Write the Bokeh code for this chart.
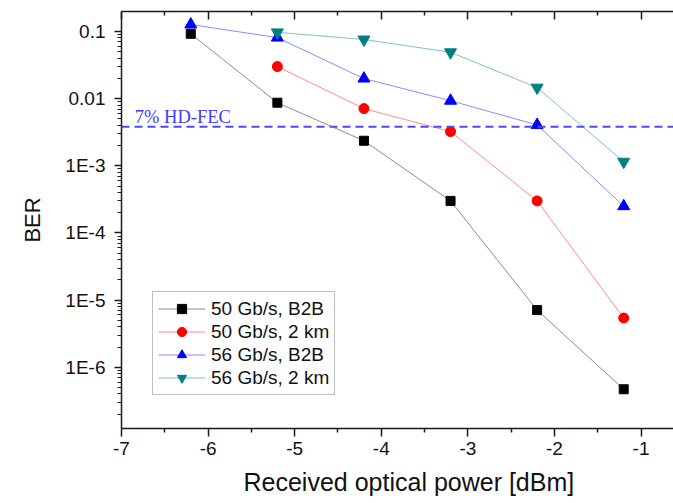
import math
from bokeh.plotting import figure
from bokeh.models import (LinearAxis, FixedTicker, CustomJSTickFormatter, Span, Label,
                          Legend, LegendItem, Range1d, Title)
from bokeh.embed import file_html
from bokeh.resources import INLINE

# ---- data ----
x_power = [-6.2, -5.2, -4.2, -3.2, -2.2, -1.2]
x_power_2km = [-5.2, -4.2, -3.2, -2.2, -1.2]
ber_50_b2b = [0.0924, 0.0087, 0.00236, 3.0e-4, 7.1e-6, 4.7e-7]
ber_50_2km = [0.030, 0.0071, 0.00323, 3.0e-4, 5.4e-6]
ber_56_b2b = [0.127, 0.081, 0.0199, 0.0093, 0.00406, 2.5e-4]
ber_56_2km = [0.097, 0.076, 0.049, 0.0146, 1.15e-3]
series_labels = ["50 Gb/s, B2B", "50 Gb/s, 2 km", "56 Gb/s, B2B", "56 Gb/s, 2 km"]
x_ticks = [-7, -6, -5, -4, -3, -2, -1]
x_minor_ticks = [-6.5, -5.5, -4.5, -3.5, -2.5, -1.5]
y_ticks = [1e-6, 1e-5, 1e-4, 1e-3, 1e-2, 1e-1]
y_tick_labels = ["1E-6", "1E-5", "1E-4", "1E-3", "0.01", "0.1"]
hd_fec_threshold = 3.8e-3
hd_fec_text = "7% HD-FEC"
x_title = "Received optical power [dBm]"
y_title = "BER"

y_minor_ticks = [m * 10.0 ** k for k in range(-7, 0) for m in range(2, 10)]

FONT = "Liberation Sans"
AX = "#1a1a1a"

p = figure(width=673, height=503, output_backend="svg", toolbar_location=None,
           y_axis_type="log",
           x_range=Range1d(-7, -0.625), y_range=Range1d(1.224e-7, 0.1984),
           min_border_left=120, min_border_right=0, min_border_top=11,
           min_border_bottom=75, background_fill_color="white",
           border_fill_color="white")
p.outline_line_color = None
p.xgrid.visible = False
p.ygrid.visible = False

# bottom axis
xa = p.xaxis[0]
xa.ticker = FixedTicker(ticks=x_ticks, minor_ticks=x_minor_ticks)
xa.formatter = CustomJSTickFormatter(code="return tick.toFixed(0);")
xa.major_tick_out = 8
xa.major_tick_in = 0
xa.minor_tick_out = 4
xa.minor_tick_in = 0
xa.major_label_standoff = 5
xa.major_label_text_font = FONT
xa.major_label_text_font_size = "19px"
xa.major_label_text_color = "#111111"
xa.axis_line_width = 1.5
xa.major_tick_line_width = 1.5
xa.minor_tick_line_width = 1.5
xa.axis_line_color = AX
xa.major_tick_line_color = AX
xa.minor_tick_line_color = AX

# left axis
ya = p.yaxis[0]
ya.ticker = FixedTicker(ticks=y_ticks, minor_ticks=y_minor_ticks)
ya.formatter = CustomJSTickFormatter(args=dict(labels=y_tick_labels),
                                     code="return labels[Math.round(Math.log10(tick)) + 6];")
ya.major_tick_out = 7
ya.major_tick_in = 0
ya.minor_tick_out = 4
ya.minor_tick_in = 0
ya.major_label_standoff = 9
ya.major_label_text_font = FONT
ya.major_label_text_font_size = "19px"
ya.major_label_text_color = "#111111"
ya.axis_line_width = 1.5
ya.major_tick_line_width = 1.5
ya.minor_tick_line_width = 1.2
ya.axis_line_color = AX
ya.major_tick_line_color = AX
ya.minor_tick_line_color = AX

# top axis (ticks only, inward)
top = LinearAxis(ticker=FixedTicker(ticks=x_ticks, minor_ticks=x_minor_ticks),
                 formatter=CustomJSTickFormatter(code="return '';"),
                 major_tick_in=8, major_tick_out=0, minor_tick_in=4, minor_tick_out=0,
                 major_label_text_font_size="0px", major_label_standoff=0,
                 axis_line_width=1.5, major_tick_line_width=1.5, minor_tick_line_width=1.5,
                 axis_line_color=AX, major_tick_line_color=AX,
                 minor_tick_line_color=AX)
p.add_layout(top, "above")

# HD-FEC threshold
p.add_layout(Span(location=hd_fec_threshold, dimension="width", line_color="#4a4aff",
                  line_width=2, line_dash="8 5"))
p.add_layout(Label(x=-6.847, y=5.4e-3, text=hd_fec_text, text_font="Liberation Serif",
                   text_font_size="18.5px", text_color="#3c3cff",
                   text_align="left", text_baseline="alphabetic"))

# series
specs = [
    (x_power, ber_50_b2b, "#8c8c8c", "black", "square", 9),
    (x_power_2km, ber_50_2km, "#ff8c8c", "red", "circle", 10),
    (x_power, ber_56_b2b, "#8c8cff", "blue", "triangle", 12),
    (x_power_2km, ber_56_2km, "#80c0c0", "#008080", "inverted_triangle", 12),
]
items = []
for (xs, ys, lc, mc, marker, size), lab in zip(specs, series_labels):
    lr = p.line(xs, ys, line_color=lc, line_width=1)
    sr = p.scatter(xs, ys, marker=marker, size=size, fill_color=mc, line_color=mc)
    items.append(LegendItem(label=lab, renderers=[lr, sr]))

legend = Legend(items=items, location=(31, 33), border_line_color="#808080",
                border_line_width=1, background_fill_color="white", background_fill_alpha=1,
                padding=5, spacing=0, margin=0, glyph_width=47, glyph_height=23,
                label_height=23, label_standoff=6, label_text_font=FONT,
                label_text_font_size="19px", label_text_color="#111111")
p.add_layout(legend)

# axis titles
p.add_layout(Title(text=y_title, align="center", offset=-22, text_font=FONT,
                   text_font_size="22px", text_font_style="normal",
                   text_color="#111111", standoff=35), "left")
p.add_layout(Title(text=x_title, align="left", offset=122, text_font=FONT,
                   text_font_size="25px", text_font_style="normal",
                   text_color="#111111", standoff=16), "below")

open("out.html", "w").write(file_html(p, INLINE))
